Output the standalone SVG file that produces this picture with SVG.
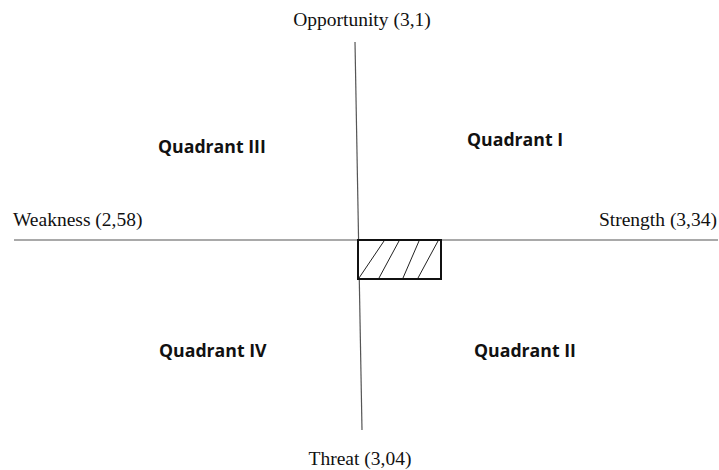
<svg xmlns="http://www.w3.org/2000/svg" width="719" height="470" viewBox="0 0 719 470">
<style>
.ax{stroke:#555;stroke-width:1.2;fill:none}
.lbl{font-family:"Liberation Serif",serif;font-size:19.5px;fill:#111}
.q{font-family:"Open Sans","Noto Sans",sans-serif;font-weight:bold;font-size:17.7px;fill:#111}
.box{fill:#fff;stroke:#111;stroke-width:2}
.hatch{stroke:#222;stroke-width:1}
</style>
<rect width="719" height="470" fill="#fff"/>
<g id="connectors">
<line class="ax" x1="14" y1="240" x2="718" y2="240"/>
<line class="ax" x1="355" y1="42" x2="362" y2="430"/>
</g>
<g id="zone">
<rect class="box" x="358" y="240" width="83" height="39"/>
<line class="hatch" x1="359" y1="278" x2="384" y2="241"/>
<line class="hatch" x1="379" y1="278" x2="399" y2="241"/>
<line class="hatch" x1="403" y1="278" x2="419" y2="241"/>
<line class="hatch" x1="418" y1="278" x2="438" y2="241"/>
</g>
<g id="opportunity"><text class="lbl" x="362" y="26" text-anchor="middle">Opportunity (3,1)</text></g>
<g id="weakness"><text class="lbl" x="13" y="226">Weakness (2,58)</text></g>
<g id="strength"><text class="lbl" x="717" y="226" text-anchor="end">Strength (3,34)</text></g>
<g id="threat"><text class="lbl" x="360" y="465" text-anchor="middle">Threat (3,04)</text></g>
<g id="q3"><text class="q" x="158" y="153">Quadrant III</text></g>
<g id="q1"><text class="q" x="467" y="146">Quadrant I</text></g>
<g id="q4"><text class="q" x="159" y="357">Quadrant IV</text></g>
<g id="q2"><text class="q" x="474" y="357">Quadrant II</text></g>
</svg>
